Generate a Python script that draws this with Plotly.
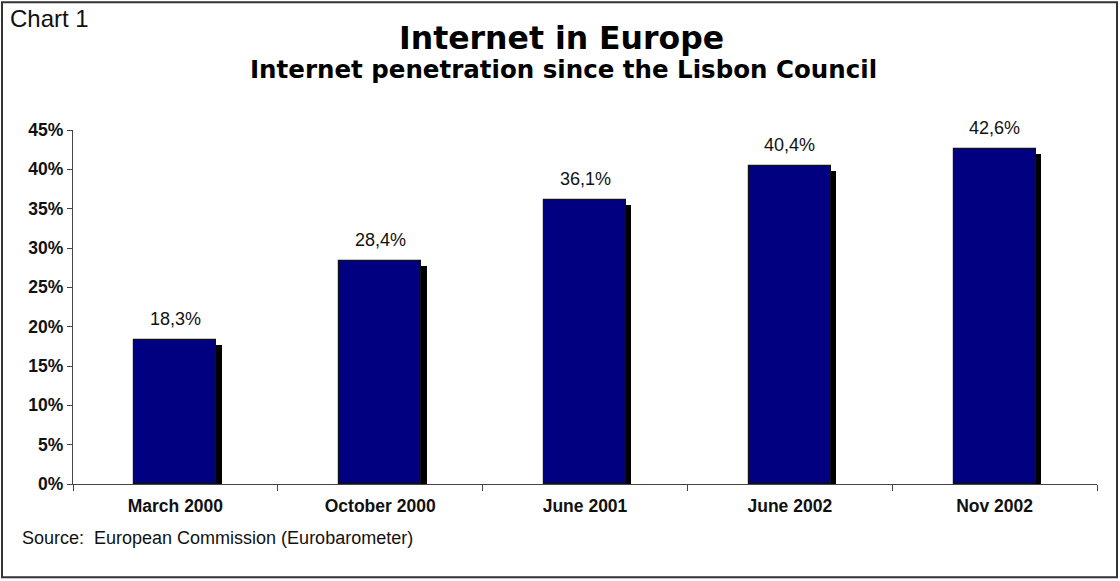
import plotly.graph_objects as go

categories = ["March 2000", "October 2000", "June 2001", "June 2002", "Nov 2002"]
values = [18.3, 28.4, 36.1, 40.4, 42.6]
value_labels = ["18,3%", "28,4%", "36,1%", "40,4%", "42,6%"]
y_ticks = [0, 5, 10, 15, 20, 25, 30, 35, 40, 45]
y_tick_labels = [f"{t}%" for t in y_ticks]

W, H = 1120, 581
L, R, T, B = 73, 23, 129.5, 96.5
pw, ph = W - L - R, H - T - B

def px_x(x):
    return (x - L) / pw

def px_y(y):
    return (H - B - y) / ph

bar_w = 0.40
shadow_dx = 5.5 / (pw / len(categories))
shadow_dy = 5 / (ph / 45)

fig = go.Figure()
# shadow
fig.add_trace(go.Bar(
    x=categories, y=[v - shadow_dy for v in values],
    width=bar_w, offset=-bar_w / 2 + shadow_dx,
    marker=dict(color="black", line=dict(width=0)),
    hoverinfo="skip", showlegend=False,
))
# main bars
fig.add_trace(go.Bar(
    x=categories, y=values,
    width=bar_w, offset=-bar_w / 2,
    marker=dict(color="#000080", line=dict(color="#111111", width=1.2)),
    showlegend=False,
))

for c, v, lab in zip(categories, values, value_labels):
    fig.add_annotation(x=c, y=v, text=lab, showarrow=False, yanchor="bottom",
                       yshift=9, font=dict(family="Liberation Sans, Arial", size=18, color="#111"))

fig.update_layout(
    width=W, height=H,
    margin=dict(l=L, r=R, t=T, b=B),
    paper_bgcolor="white", plot_bgcolor="white",
    barmode="overlay",
    bargap=0,
    font=dict(family="Liberation Sans, Arial", color="#111"),
)
fig.update_xaxes(
    type="category", showgrid=False, showline=True, linecolor="#444", linewidth=1.3,
    ticks="outside", tickson="boundaries", ticklen=6, tickcolor="#444", tickwidth=1.3,
    tickfont=dict(family="Liberation Sans, Arial", size=17.5, color="#111"),
    ticklabelstandoff=6,
    tickvals=categories, ticktext=[f"<b>{c}</b>" for c in categories],
)
fig.update_yaxes(
    range=[0, 45], tickvals=y_ticks, ticktext=[f"<b>{t}</b>" for t in y_tick_labels],
    showgrid=False, zeroline=False, showline=True, linecolor="#444", linewidth=1.3,
    ticks="outside", ticklen=5, tickcolor="#444", tickwidth=1.3,
    tickfont=dict(family="Liberation Sans, Arial", size=17.5, color="#111"),
)

# border
fig.add_shape(type="rect", xref="paper", yref="paper",
              x0=px_x(2), x1=px_x(1117), y0=px_y(578), y1=px_y(1.5),
              line=dict(color="#333", width=2), fillcolor="rgba(0,0,0,0)", layer="below")

fig.add_annotation(xref="paper", yref="paper", x=px_x(8), y=px_y(18), xanchor="left", yanchor="middle",
                   text="Chart 1", showarrow=False,
                   font=dict(family="Liberation Sans, Arial", size=24, color="#111"))
fig.add_annotation(xref="paper", yref="paper", x=px_x(561), y=px_y(37), xanchor="center", yanchor="middle",
                   text="<b>Internet in Europe</b>", showarrow=False,
                   font=dict(family="DejaVu Sans, Verdana", size=31.5, color="#000"))
fig.add_annotation(xref="paper", yref="paper", x=px_x(563), y=px_y(69), xanchor="center", yanchor="middle",
                   text="<b>Internet penetration since the Lisbon Council</b>", showarrow=False,
                   font=dict(family="DejaVu Sans, Verdana", size=24.5, color="#000"))
fig.add_annotation(xref="paper", yref="paper", x=px_x(20), y=px_y(539), xanchor="left", yanchor="middle",
                   text="Source:  European Commission (Eurobarometer)", showarrow=False,
                   font=dict(family="Liberation Sans, Arial", size=18, color="#111"))

fig.write_html("out.html", config={"displayModeBar": False},
               post_script="document.body.style.margin='0';")
